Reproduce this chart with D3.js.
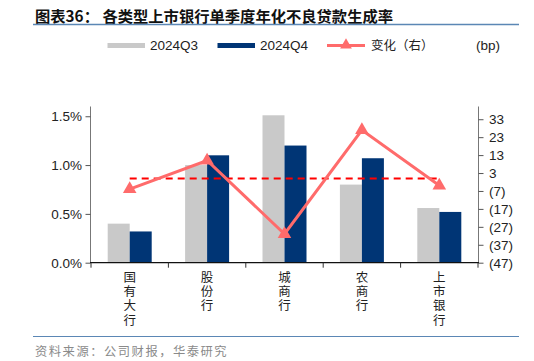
<!DOCTYPE html>
<html><head><meta charset="utf-8">
<script src="https://cdn.jsdelivr.net/npm/d3@7"></script>
<style>body{margin:0;background:#fff}svg{display:block}</style>
</head><body>
<svg id="c" width="534" height="361"></svg>
<script>
const categories = ["国有大行","股份行","城商行","农商行","上市银行"];
const q3 = [0.40, 1.00, 1.51, 0.80, 0.56];
const q4 = [0.32, 1.10, 1.20, 1.07, 0.52];
const change = [-6, 10, -31, 27, -4];
const refLine = [0, 0];
const leftTicks = [0, 0.5, 1.0, 1.5];
const rightTicks = [33, 23, 13, 3, -7, -17, -27, -37, -47];
const seriesNames = ["2024Q3", "2024Q4", "变化（右）"];

const svg = d3.select("#c");
const cjk = "'Noto Sans CJK SC','Noto Sans',sans-serif";
const lat = "'Liberation Sans',Arial,sans-serif";
const X0 = 91, X1 = 478, Y0 = 262.7, Ytop = 106.5;

const x = d3.scaleBand().domain(categories).range([X0, X1]).paddingInner(0).paddingOuter(0);
const xs = d3.scaleBand().domain([0,1]).range([0, 44]);
const yL = d3.scaleLinear().domain([0, 1.6]).range([Y0, Ytop]);
const yR = d3.scaleLinear().domain([-47, 40.1]).range([Y0, Ytop]);

// title
svg.append("text").attr("x", 35).attr("y", 22).attr("font-family", cjk).attr("font-weight", 700)
  .attr("font-size", 15.3).attr("fill", "#111").text("图表36：  各类型上市银行单季度年化不良贷款生成率");
svg.append("line").attr("x1", 33).attr("x2", 519).attr("y1", 24.5).attr("y2", 24.5).attr("stroke", "#5b87b5").attr("stroke-width", 1.3);
svg.append("line").attr("x1", 33).attr("x2", 519).attr("y1", 336.5).attr("y2", 336.5).attr("stroke", "#5b87b5").attr("stroke-width", 1);
svg.append("text").attr("x", 35).attr("y", 356).attr("font-family", cjk).attr("font-size", 12.3)
  .attr("letter-spacing", 1.5).attr("fill", "#8a8a8a").text("资料来源：公司财报，华泰研究");

// legend
const lg = svg.append("g");
lg.append("rect").attr("x", 107.5).attr("y", 43).attr("width", 37.5).attr("height", 5).attr("fill", "#c9c9c9");
lg.append("text").attr("x", 150).attr("y", 50).attr("font-family", lat).attr("font-size", 13.5).attr("fill", "#222").text(seriesNames[0]);
lg.append("rect").attr("x", 217.5).attr("y", 43).attr("width", 37.5).attr("height", 5).attr("fill", "#003575");
lg.append("text").attr("x", 260).attr("y", 50).attr("font-family", lat).attr("font-size", 13.5).attr("fill", "#222").text(seriesNames[1]);
lg.append("line").attr("x1", 327).attr("x2", 365).attr("y1", 45.5).attr("y2", 45.5).attr("stroke", "#ff6b6b").attr("stroke-width", 3);
lg.append("path").attr("d", d3.symbol(d3.symbolTriangle, 60)()).attr("transform", "translate(346,45)").attr("fill", "#ff6b6b");
lg.append("text").attr("x", 371).attr("y", 50).attr("font-family", cjk).attr("font-size", 12.5).attr("fill", "#222").text(seriesNames[2]);
svg.append("text").attr("x", 476).attr("y", 50).attr("font-family", lat).attr("font-size", 13.5).attr("fill", "#222").text("(bp)");

// bars
const g = svg.append("g");
categories.forEach((c, i) => {
  const cx = x(c) + x.bandwidth()/2 - 22;
  g.append("rect").attr("x", cx + xs(0)).attr("width", xs.bandwidth()).attr("y", yL(q3[i])).attr("height", Y0 - yL(q3[i])).attr("fill", "#c9c9c9");
  g.append("rect").attr("x", cx + xs(1)).attr("width", xs.bandwidth()).attr("y", yL(q4[i])).attr("height", Y0 - yL(q4[i])).attr("fill", "#003575");
});

// axes
const axL = d3.axisLeft(yL).tickValues(leftTicks).tickSize(5).tickPadding(4).tickFormat(d => d.toFixed(1) + "%");
const gl = svg.append("g").attr("transform", `translate(${X0},0)`).call(axL);
gl.select(".domain").attr("d", `M-0.5,${Ytop}V${Y0}`).attr("stroke", "#777");
gl.selectAll(".tick line").attr("stroke", "#555").attr("transform", "translate(-0.5,0)");
gl.selectAll("text").attr("font-family", lat).attr("font-size", 13.5).attr("fill", "#222");

const axR = d3.axisRight(yR).tickValues(rightTicks).tickSize(5).tickPadding(6).tickFormat(d => d < 0 ? `(${-d})` : d);
const gr = svg.append("g").attr("transform", `translate(${X1},0)`).call(axR);
gr.select(".domain").attr("d", `M0.5,${Ytop}V${Y0}`).attr("stroke", "#777");
gr.selectAll(".tick line").attr("stroke", "#555").attr("transform", "translate(0.5,0)");
gr.selectAll("text").attr("font-family", lat).attr("font-size", 13.5).attr("fill", "#222");

// x axis
svg.append("line").attr("x1", X0 - 1).attr("x2", X1 + 1).attr("y1", Y0).attr("y2", Y0).attr("stroke", "#111").attr("stroke-width", 1.2);
const bounds = categories.map(c => x(c)).concat([X1]);
bounds.forEach(b => svg.append("line").attr("x1", b).attr("x2", b).attr("y1", Y0).attr("y2", Y0 + 5).attr("stroke", "#333"));
categories.forEach(c => {
  svg.append("text").attr("font-family", cjk).attr("font-size", 12.5).attr("fill", "#222")
    .attr("x", x(c) + x.bandwidth()/2).attr("y", 271)
    .style("writing-mode", "vertical-rl").style("letter-spacing", "1.7px")
    .text(c);
});

// reference dashed line
const cxs = categories.map(c => x(c) + x.bandwidth()/2);
svg.append("line").attr("x1", cxs[0]).attr("x2", cxs[cxs.length-1]).attr("y1", yR(refLine[0])).attr("y2", yR(refLine[1]))
  .attr("stroke", "#ff0000").attr("stroke-width", 2).attr("stroke-dasharray", "7,5");

// change line
const line = d3.line().x((d, i) => cxs[i]).y(d => yR(d));
svg.append("path").datum(change).attr("d", line).attr("fill", "none").attr("stroke", "#ff6b6b").attr("stroke-width", 3);
svg.selectAll(".mk").data(change).enter().append("path")
  .attr("d", d3.symbol(d3.symbolTriangle, 80)())
  .attr("transform", (d, i) => `translate(${cxs[i]},${yR(d)})`).attr("fill", "#ff6b6b");
</script>
</body></html>
